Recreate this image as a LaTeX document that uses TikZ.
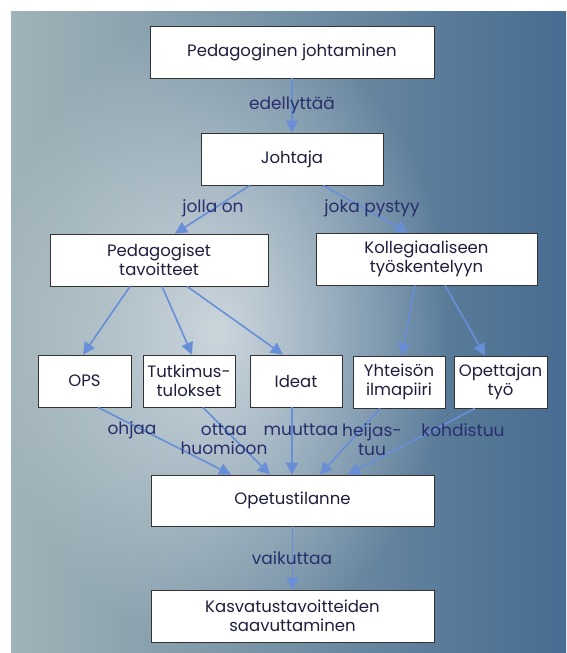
\documentclass[tikz,border=0pt]{standalone}
\usepackage{fontspec}
\setmainfont{Poppins}
\usetikzlibrary{arrows.meta,fadings}
\definecolor{bgL}{RGB}{160,179,184}
\definecolor{bgR}{RGB}{70,108,145}
\definecolor{arrowc}{RGB}{104,142,216}
\definecolor{lblc}{RGB}{40,46,108}
\definecolor{boxtxt}{RGB}{30,30,62}
\tikzfading[name=glowfade, inner color=transparent!0, outer color=transparent!100]
\tikzset{
  box/.style={draw=black!80, line width=0.8pt, fill=white, inner sep=0pt,
    minimum height=52pt, align=center, text=boxtxt,
    font=\fontsize{16.5}{18.5}\selectfont},
  conn/.style={draw=arrowc, line width=1.6pt,
    -{Triangle[length=12pt,width=12pt]}},
  lbl/.style={text=lblc, align=center, inner sep=0pt,
    font=\fontsize{17}{19}\selectfont}
}
\begin{document}
\begin{tikzpicture}[x=1pt,y=-1pt]
\useasboundingbox (0,0) rectangle (566,653);
% background
\shade[left color=bgL, right color=bgR] (11,11) rectangle (566,653);
\fill[white, fill opacity=0.6, path fading=glowfade]
  (220,330) ellipse [x radius=230pt, y radius=320pt];
% boxes
\node[box, minimum width=284pt] (pj) at (292,52) {Pedagoginen johtaminen};
\node[box, minimum width=182pt] (jo) at (292,159) {Johtaja};
\node[box, minimum width=218pt] (pt) at (159,260) {Pedagogiset\\tavoitteet};
\node[box, minimum width=221pt] (kt) at (426.5,259) {Kollegiaaliseen\\työskentelyyn};
\node[box, minimum width=93pt] (ops) at (84.5,381) {OPS};
\node[box, minimum width=92pt] (tt) at (189,381) {Tutkimus-\\tulokset};
\node[box, minimum width=92pt] (id) at (296,381) {Ideat};
\node[box, minimum width=92pt] (yi) at (399,382) {Yhteisön\\ilmapiiri};
\node[box, minimum width=93pt] (ot) at (500.5,382) {Opettajan\\työ};
\node[box, minimum width=283pt, minimum height=51pt] (os) at (292.5,500.5) {Opetustilanne};
\node[box, minimum width=283pt] (kv) at (292.5,616) {Kasvatustavoitteiden\\saavuttaminen};
% connectors
\draw[conn] (pj.south) -- (jo.north);
\draw[conn] ([xshift=-42pt]jo.south) -- ([xshift=16pt]pt.north);
\draw[conn] ([xshift=31pt]jo.south) -- ([xshift=-18.5pt]kt.north);
\draw[conn] ([xshift=-29pt]pt.south) -- ([xshift=-1.5pt]ops.north);
\draw[conn] ([xshift=3pt]pt.south) -- ([xshift=3pt]tt.north);
\draw[conn] ([xshift=28pt]pt.south) -- ([xshift=-13pt]id.north);
\draw[conn] ([xshift=-11.5pt]kt.south) -- ([xshift=3pt]yi.north);
\draw[conn] ([xshift=18.5pt]kt.south) -- ([xshift=-15.5pt]ot.north);
\draw[conn] ([xshift=13.5pt]ops.south) -- ([xshift=-61.5pt]os.north);
\draw[conn] ([xshift=14pt]tt.south) -- ([xshift=-22.5pt]os.north);
\draw[conn] ([xshift=-4pt]id.south) -- ([xshift=-0.5pt]os.north);
\draw[conn] ([xshift=-19pt]yi.south) -- ([xshift=27.5pt]os.north);
\draw[conn] ([xshift=-25.5pt]ot.south) -- ([xshift=55.5pt]os.north);
\draw[conn] (os.south) -- (kv.north);
% labels
\node[lbl] (l1) at (292,105) {edellyttää};
\node[lbl] (l2) at (213,208) {jolla on};
\node[lbl] (l3) at (372,208) {joka pystyy};
\node[lbl] (l4) at (132,430) {ohjaa};
\node[lbl] (l5) at (224,439.5) {ottaa\\huomioon};
\node[lbl] (l6) at (301,430) {muuttaa};
\node[lbl] (l7) at (372,439.5) {heijas-\\tuu};
\node[lbl] (l8) at (463,430) {kohdistuu};
\node[lbl] (l9) at (292,558) {vaikuttaa};
\end{tikzpicture}
\end{document}
